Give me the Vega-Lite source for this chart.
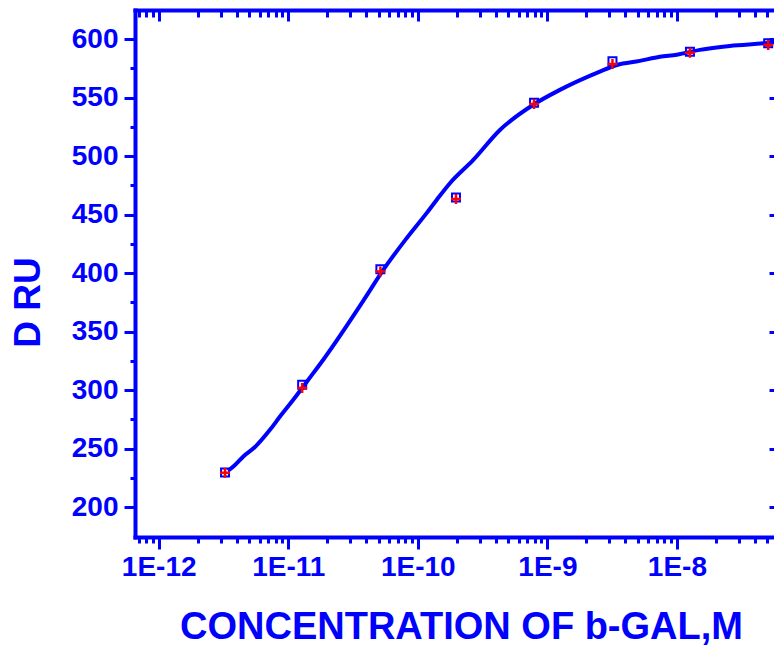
{
  "$schema": "https://vega.github.io/schema/vega-lite/v6.json",
  "width": 642,
  "height": 527,
  "autosize": {"type": "none"},
  "padding": {"left": 135, "top": 10, "right": 0, "bottom": 109},
  "background": "white",
  "config": {
    "view": {"stroke": null},
    "axis": {
      "domainColor": "#0000FF",
      "domainWidth": 4,
      "domainCap": "square",
      "tickColor": "#0000FF",
      "tickWidth": 3,
      "labelColor": "#0000FF",
      "labelFont": "Liberation Sans",
      "labelFontWeight": "bold",
      "labelFontSize": 28,
      "titleColor": "#0000FF",
      "titleFont": "Liberation Sans",
      "titleFontWeight": "bold",
      "titleFontSize": 37,
      "grid": false
    }
  },
  "datasets": {
    "fit": [
      {"conc": 3.43e-12, "ru": 231},
      {"conc": 3.88e-12, "ru": 236},
      {"conc": 4.50e-12, "ru": 243.3},
      {"conc": 5.53e-12, "ru": 251.3},
      {"conc": 7.22e-12, "ru": 266},
      {"conc": 8.63e-12, "ru": 277.4},
      {"conc": 1.093e-11, "ru": 291.7},
      {"conc": 1.559e-11, "ru": 314.5},
      {"conc": 1.863e-11, "ru": 326},
      {"conc": 3.91e-11, "ru": 378.6},
      {"conc": 5.41e-11, "ru": 402.8},
      {"conc": 8.20e-11, "ru": 429.9},
      {"conc": 1.169e-10, "ru": 451.3},
      {"conc": 1.397e-10, "ru": 462.6},
      {"conc": 1.769e-10, "ru": 476.9},
      {"conc": 2.68e-10, "ru": 496.8},
      {"conc": 4.30e-10, "ru": 522.4},
      {"conc": 7.73e-10, "ru": 543.8},
      {"conc": 1.249e-9, "ru": 556.7},
      {"conc": 2.54e-9, "ru": 572.3},
      {"conc": 3.44e-9, "ru": 578},
      {"conc": 5.17e-9, "ru": 581.5},
      {"conc": 7.38e-9, "ru": 585.1},
      {"conc": 9.98e-9, "ru": 586.8},
      {"conc": 1.502e-8, "ru": 590.9},
      {"conc": 2.56e-8, "ru": 594.3},
      {"conc": 5.03e-8, "ru": 596.8},
      {"conc": 5.92e-8, "ru": 597.7}
    ],
    "pts": [
      {"conc": 3.25e-12, "sq": 229.6, "cr": 229.3},
      {"conc": 1.28e-11, "sq": 304.5, "cr": 301.7},
      {"conc": 5.14e-11, "sq": 403.4, "cr": 401.4},
      {"conc": 1.97e-10, "sq": 464.6, "cr": 463.5},
      {"conc": 7.89e-10, "sq": 545.8, "cr": 544.7},
      {"conc": 3.18e-9, "sq": 581.2, "cr": 578.9},
      {"conc": 1.26e-8, "sq": 589.4, "cr": 588.5},
      {"conc": 5.06e-8, "sq": 596.6, "cr": 595.1}
    ]
  },
  "resolve": {"axis": {"x": "independent", "y": "independent"}},
  "layer": [
    {
      "data": {"name": "fit"},
      "mark": {"type": "line", "color": "#0000FF", "strokeWidth": 4, "interpolate": "monotone", "clip": true},
      "encoding": {
        "x": {
          "field": "conc", "type": "quantitative",
          "scale": {"type": "log", "domain": [6.56e-13, 5.92e-8], "nice": false},
          "axis": {
            "orient": "bottom",
            "values": [7e-13, 8e-13, 9e-13, 1e-12, 2e-12, 3e-12, 4e-12, 5e-12, 6e-12, 7e-12, 8e-12, 9e-12, 1e-11, 2e-11, 3e-11, 4e-11, 5e-11, 6e-11, 7e-11, 8e-11, 9e-11, 1e-10, 2e-10, 3e-10, 4e-10, 5e-10, 6e-10, 7e-10, 8e-10, 9e-10, 1e-9, 2e-9, 3e-9, 4e-9, 5e-9, 6e-9, 7e-9, 8e-9, 9e-9, 1e-8, 2e-8, 3e-8, 4e-8, 5e-8],
            "labelExpr": "abs(log(datum.value)/LN10 - round(log(datum.value)/LN10)) < 0.01 ? '1E' + round(log(datum.value)/LN10) : ''",
            "tickSize": {"condition": {"test": "abs(log(datum.value)/LN10 - round(log(datum.value)/LN10)) < 0.01", "value": 12}, "value": 6},
            "labelOverlap": false,
            "labelFlush": false,
            "labelBound": false,
            "labelPadding": 4,
            "title": "CONCENTRATION OF b-GAL,M",
            "titleFontSize": 38,
            "titleX": 326,
            "titleY": 101,
            "titleAlign": "center",
            "titleBaseline": "alphabetic"
          }
        },
        "y": {
          "field": "ru", "type": "quantitative",
          "scale": {"domain": [174.4, 625], "nice": false, "zero": false},
          "axis": {
            "orient": "left",
            "values": [200, 225, 250, 275, 300, 325, 350, 375, 400, 425, 450, 475, 500, 525, 550, 575, 600],
            "labelExpr": "datum.value % 50 == 0 ? datum.label : ''",
            "tickSize": {"condition": {"test": "datum.value % 50 == 0", "value": 11}, "value": 5},
            "labelOverlap": false,
            "labelPadding": 6,
            "title": "D RU",
            "titleX": -96,
            "titleY": 292,
            "titleAlign": "center",
            "titleBaseline": "alphabetic",
            "titleAngle": -90
          }
        }
      }
    },
    {
      "data": {"name": "pts"},
      "mark": {"type": "point", "shape": "square", "filled": false, "stroke": "#0000FF", "strokeWidth": 2, "size": 64, "opacity": 1},
      "encoding": {
        "x": {
          "field": "conc", "type": "quantitative",
          "scale": {"type": "log", "domain": [6.56e-13, 5.92e-8], "nice": false},
          "axis": {
            "orient": "top",
            "values": [7e-13, 8e-13, 9e-13, 1e-12, 2e-12, 3e-12, 4e-12, 5e-12, 6e-12, 7e-12, 8e-12, 9e-12, 1e-11, 2e-11, 3e-11, 4e-11, 5e-11, 6e-11, 7e-11, 8e-11, 9e-11, 1e-10, 2e-10, 3e-10, 4e-10, 5e-10, 6e-10, 7e-10, 8e-10, 9e-10, 1e-9, 2e-9, 3e-9, 4e-9, 5e-9, 6e-9, 7e-9, 8e-9, 9e-9, 1e-8, 2e-8, 3e-8, 4e-8, 5e-8],
            "labels": false,
            "tickSize": {"condition": {"test": "abs(log(datum.value)/LN10 - round(log(datum.value)/LN10)) < 0.01", "value": -11}, "value": -7},
            "title": null
          }
        },
        "y": {
          "field": "sq", "type": "quantitative",
          "scale": {"domain": [174.4, 625], "nice": false, "zero": false},
          "axis": {
            "orient": "right",
            "values": [200, 250, 300, 350, 400, 450, 500, 550, 600],
            "labels": false,
            "tickSize": -8,
            "title": null
          }
        }
      }
    },
    {
      "data": {"name": "pts"},
      "mark": {"type": "point", "shape": "M-1,0H1M0,-1V1", "filled": false, "stroke": "#FF0000", "strokeWidth": 2.5, "size": 100, "opacity": 1},
      "encoding": {
        "x": {
          "field": "conc", "type": "quantitative",
          "scale": {"type": "log", "domain": [6.56e-13, 5.92e-8], "nice": false},
          "axis": null
        },
        "y": {
          "field": "cr", "type": "quantitative",
          "scale": {"domain": [174.4, 625], "nice": false, "zero": false},
          "axis": null
        }
      }
    }
  ]
}
